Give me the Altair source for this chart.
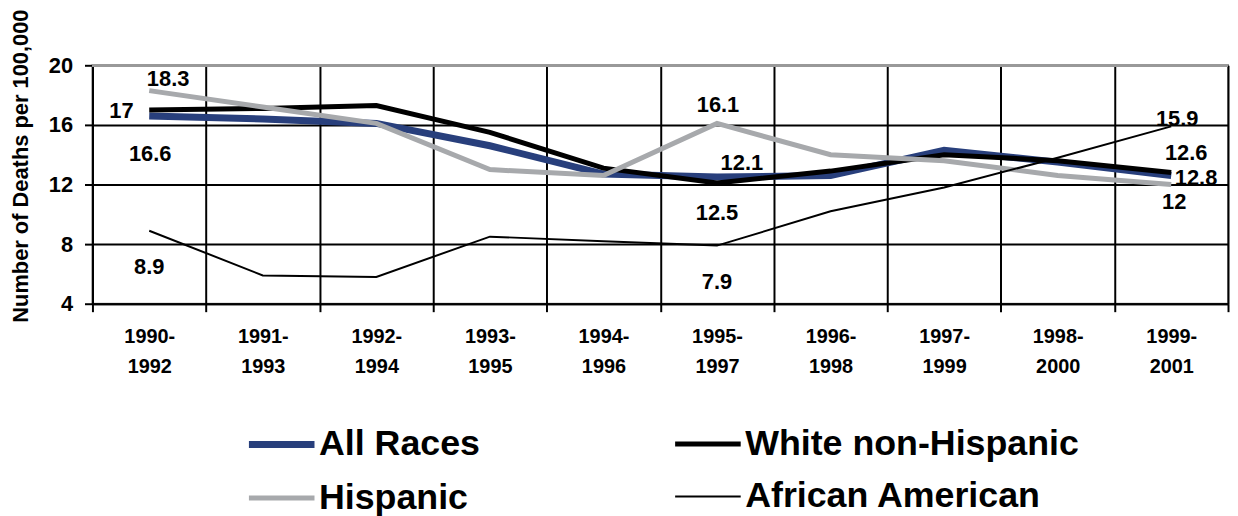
import altair as alt
import pandas as pd

# ---- data ----
categories = ["1990-1992", "1991-1993", "1992-1994", "1993-1995", "1994-1996",
              "1995-1997", "1996-1998", "1997-1999", "1998-2000", "1999-2001"]
series_names = ["All Races", "White non-Hispanic", "Hispanic", "African American"]
all_races = [16.6, 16.4, 16.1, 14.6, 12.7, 12.5, 12.6, 14.3, 13.5, 12.6]
white_non_hispanic = [17.0, 17.1, 17.3, 15.5, 13.1, 12.1, 12.9, 14.0, 13.6, 12.8]
hispanic = [18.3, 17.2, 16.1, 13.0, 12.6, 16.1, 14.0, 13.6, 12.6, 12.0]
african_american = [8.9, 5.9, 5.8, 8.5, 8.2, 7.9, 10.2, 11.8, 13.8, 15.9]
y_ticks = [4, 8, 12, 16, 20]

# labelled points (series, category)
labelled = [
    ("Hispanic", "1990-1992"), ("White non-Hispanic", "1990-1992"),
    ("All Races", "1990-1992"), ("African American", "1990-1992"),
    ("Hispanic", "1995-1997"), ("White non-Hispanic", "1995-1997"),
    ("All Races", "1995-1997"), ("African American", "1995-1997"),
    ("African American", "1999-2001"), ("All Races", "1999-2001"),
    ("White non-Hispanic", "1999-2001"), ("Hispanic", "1999-2001"),
]

# ---- styles (label offsets in pixels) ----
label_offsets = [
    (19, -11.5), (-28, 1), (1, 38), (0, 36.5),
    (1, -18.5), (25, -20.5), (0, 36.5), (0, 36.5),
    (6, -7.5), (15, -23), (25, 5), (3, 18),
]
colors = ["#283F7C", "#000000", "#A7A9AC", "#000000"]
widths = [7, 5, 5, 2]
FONT = "Liberation Sans"

values = [all_races, white_non_hispanic, hispanic, african_american]
rows = []
for name, vals in zip(series_names, values):
    for c, v in zip(categories, vals):
        rows.append({"period": c, "series": name, "rate": v})
df = pd.DataFrame(rows)

x_enc = alt.X("period:N", sort=categories, bandPosition=0.5,
              scale=alt.Scale(type="band", paddingInner=0, paddingOuter=0),
              axis=alt.Axis(title=None, tickBand="extent", grid=True,
                            labelExpr="[slice(datum.label,0,5), slice(datum.label,5)]",
                            labelFont=FONT, labelFontSize=20, labelFontWeight="bold",
                            labelColor="black", labelAngle=0, labelBaseline="top",
                            labelLineHeight=30, labelPadding=15,
                            tickSize=8, tickColor="black", tickWidth=2,
                            domainColor="black", domainWidth=2,
                            gridColor="black", gridWidth=2, gridOpacity=1))
y_enc = alt.Y("rate:Q",
              scale=alt.Scale(domain=[4, 20], nice=False, zero=False),
              axis=alt.Axis(title="Number of Deaths per 100,000", values=y_ticks,
                            titleFont=FONT, titleFontSize=22, titleFontWeight="bold",
                            titleColor="black", titleX=-72, titleY=101,
                            titleAngle=270, titleAlign="center", titleBaseline="middle",
                            labelFont=FONT, labelFontSize=22, labelFontWeight="bold",
                            labelColor="black", labelPadding=12,
                            tickSize=8, tickColor="black", tickWidth=2,
                            domainColor="black", domainWidth=2,
                            grid=True, gridColor="black", gridWidth=2, gridOpacity=1))

base = alt.Chart(df)

lines = base.mark_line(strokeJoin="miter").encode(
    x=x_enc,
    y=y_enc,
    color=alt.Color("series:N", sort=series_names,
                    scale=alt.Scale(domain=series_names, range=colors), title=None),
    strokeWidth=alt.StrokeWidth("series:N", sort=series_names,
                                scale=alt.Scale(type="ordinal", domain=series_names, range=widths),
                                title=None),
    detail="series:N",
)

top_border = base.mark_rule(color="#999999", strokeWidth=2.5).encode(
    y=alt.datum(20)
)

layers = [lines, top_border]
for (s, c), (dx, dy) in zip(labelled, label_offsets):
    layers.append(
        base.transform_filter(
            (alt.datum.series == s) & (alt.datum.period == c)
        ).mark_text(font=FONT, fontSize=22, fontWeight="bold", color="black",
                    align="center", baseline="middle", dx=dx, dy=dy).encode(
            x=alt.X("period:N", sort=categories, bandPosition=0.5),
            y=alt.Y("rate:Q"),
            text=alt.Text("rate:Q", format="~g"),
        )
    )

chart = alt.layer(*layers).properties(
    width=1143, height=240,
    autosize=alt.AutoSizeParams(type="none"),
    padding={"left": 85, "top": 56, "right": 2, "bottom": 212},
).configure_view(
    stroke="#999999", strokeWidth=2
).configure_legend(
    orient="none", legendX=154, legendY=345, columns=2, direction="horizontal",
    columnPadding=185, rowPadding=-19, padding=0,
    labelFont=FONT, labelFontSize=36, labelFontWeight="bold", labelColor="black",
    labelLimit=0, labelOffset=1, symbolType="stroke", symbolSize=4356,
)

chart.save("out.html", embed_options={"renderer": "svg", "actions": False})
